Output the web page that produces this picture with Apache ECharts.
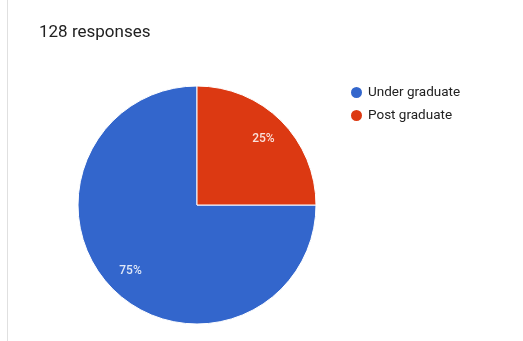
<!DOCTYPE html>
<html>
<head>
<meta charset="utf-8">
<script src="https://cdn.jsdelivr.net/npm/echarts@6/dist/echarts.min.js"></script>
<style>
  html, body { margin: 0; padding: 0; background: #fff; }
  #chart { width: 523px; height: 341px; }
</style>
</head>
<body>
<div id="chart"></div>
<script>
// Survey answers: level of study
const categories = ['Under graduate', 'Post graduate'];
const counts = [96, 32];
const colors = ['#3366cc', '#dc3912'];
const totalResponses = 128;

const pieData = categories.map((name, i) => ({ name, value: counts[i] }));

const chart = echarts.init(document.getElementById('chart'), null, { renderer: 'canvas' });
chart.setOption({
  animation: false,
  color: colors,
  title: {
    text: totalResponses + ' responses',
    left: 34,
    top: 19,
    textStyle: { fontFamily: 'Roboto', fontSize: 17, fontWeight: 'normal', color: '#212121' }
  },
  legend: {
    orient: 'vertical',
    left: 344,
    top: 80,
    icon: 'circle',
    itemWidth: 13,
    itemHeight: 13,
    itemGap: 8,
    data: categories,
    textStyle: { fontFamily: 'Roboto', fontSize: 13.5, color: '#222' }
  },
  graphic: [{
    type: 'line',
    shape: { x1: 7.5, y1: 0, x2: 7.5, y2: 341 },
    style: { stroke: '#e0e0e0', lineWidth: 1 }
  }],
  series: [
    {
      type: 'pie',
      center: [197, 205],
      radius: 119,
      startAngle: 0,
      clockwise: true,
      data: pieData,
      itemStyle: { borderColor: '#fff', borderWidth: 1 },
      label: { show: false },
      labelLine: { show: false },
      emphasis: { disabled: true }
    },
    {
      // label ring: places the percentage text further out along each slice
      type: 'pie',
      center: [197, 205],
      radius: [63, 119],
      startAngle: 0,
      clockwise: true,
      silent: true,
      legendHoverLink: false,
      data: pieData,
      itemStyle: { color: 'rgba(0,0,0,0)', borderWidth: 0 },
      label: {
        show: true,
        position: 'inside',
        formatter: p => Math.round(p.percent) + '%',
        fontFamily: 'Roboto',
        fontSize: 12,
        fontWeight: 500,
        color: 'rgba(255,255,255,0.85)'
      },
      labelLine: { show: false },
      emphasis: { disabled: true }
    }
  ]
});
</script>
</body>
</html>
